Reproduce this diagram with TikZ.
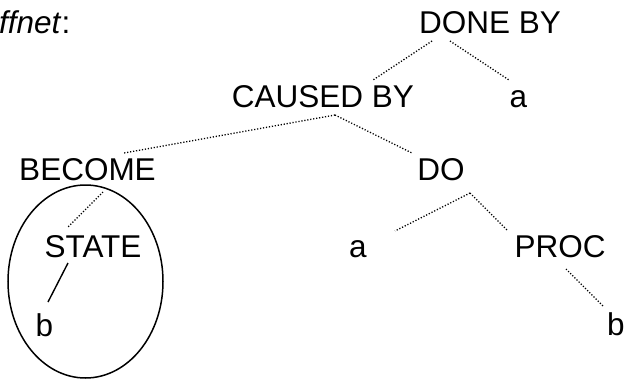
\documentclass[tikz,border=0pt]{standalone}
\usepackage{fontspec}
\setmainfont{Liberation Sans}
\begin{document}
\begin{tikzpicture}[x=1pt,y=-1pt,
  lbl/.style={anchor=base,inner sep=0pt,font=\fontsize{31.5}{36}\selectfont},
  dotline/.style={line width=1.3pt,dash pattern=on 1.2pt off 1.8pt},
  solidline/.style={line width=1.4pt},
  ring/.style={line width=1.5pt}]
\useasboundingbox (0,0) rectangle (627,381);
\node[lbl,anchor=base west] (title) at (-1,33) {\textit{ffnet}:};
\node[lbl] (dby) at (490,33) {DONE BY};
\node[lbl] (cby) at (323,107) {CAUSED BY};
\node[lbl] (atop) at (518.5,107) {a};
\node[lbl] (become) at (87.5,180) {BECOME};
\node[lbl] (do) at (441,180) {DO};
\node[lbl] (state) at (93,257) {STATE};
\node[lbl] (amid) at (358,257) {a};
\node[lbl] (proc) at (560,257) {PROC};
\node[lbl] (bleft) at (44.5,336) {b};
\node[lbl] (bright) at (616,335) {b};
% connectors
\draw[dotline] ([shift={(-58,8)}]dby.base) -- ([shift={(50,-27)}]cby.base);
\draw[dotline] ([shift={(-40,8)}]dby.base) -- ([shift={(-9.5,-27)}]atop.base);
\draw[dotline] ([shift={(12,8)}]cby.base) -- ([shift={(36.5,-27)}]become.base);
\draw[dotline] ([shift={(12,8)}]cby.base) -- ([shift={(-29,-27)}]do.base);
\draw[dotline] ([shift={(15.5,12)}]become.base) -- ([shift={(-25,-30)}]state.base);
\draw[dotline] ([shift={(29,13)}]do.base) -- ([shift={(37,-26)}]amid.base);
\draw[dotline] ([shift={(29,13)}]do.base) -- ([shift={(-52,-26)}]proc.base);
\draw[dotline] ([shift={(6,12)}]proc.base) -- ([shift={(-12,-28)}]bright.base);
\draw[solidline] ([shift={(-25,6)}]state.base) -- ([shift={(3.5,-34)}]bleft.base);
% ellipse around STATE subtree
\draw[ring] (85.5,281.5) ellipse [x radius=77.5, y radius=96.5];
\end{tikzpicture}
\end{document}
